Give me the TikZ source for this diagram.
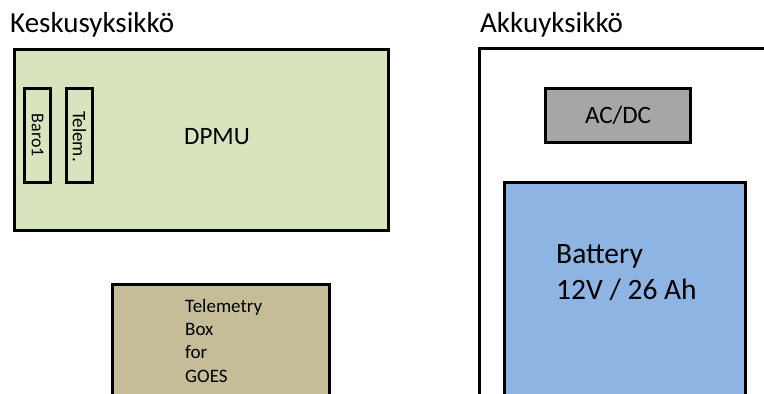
\documentclass[tikz,border=0pt]{standalone}
\usepackage{fontspec}
\setmainfont{Carlito}
\usetikzlibrary{positioning,calc}
\definecolor{dpmugreen}{HTML}{D7E4BD}
\definecolor{telebrown}{HTML}{C4BD97}
\definecolor{battblue}{HTML}{8EB4E3}
\definecolor{acdcgray}{HTML}{A6A6A6}
\begin{document}
\begin{tikzpicture}[
    x=1pt, y=-1pt,
    box/.style={rectangle, draw, line width=3pt, inner sep=0pt, outer sep=0pt, anchor=north west},
    title/.style={font=\fontsize{29}{34}\selectfont, anchor=base west, inner sep=0pt},
    lbl/.style={inner sep=0pt}
]
    \useasboundingbox (0,0) rectangle (764,394);
    \clip (0,0) rectangle (764,394);
    % central unit
    \node[title] (keskus) at (10,32) {Keskusyksikkö};
    \node[box, fill=dpmugreen, minimum width=374, minimum height=181] (dpmu) at (14.5,49.5) {};
    \node[lbl, font=\fontsize{25}{30}\selectfont] (dpmutxt) at (217,137) {DPMU};
    \node[box, minimum width=26, minimum height=94] (baro) at (24.5,88.5) {};
    \node[box, minimum width=26, minimum height=94] (telem) at (66.5,88.5) {};
    \node[lbl, rotate=-90, font=\fontsize{18}{22}\selectfont] (barotxt) at (baro.center) {Baro1};
    \node[lbl, rotate=-90, font=\fontsize{19}{23}\selectfont] (telemtxt) at ([yshift=-1]telem.center) {Telem.};
    \node[box, fill=telebrown, minimum width=217, minimum height=200] (goes) at (112.5,284.5) {};
    \node[lbl, align=left, anchor=north west, font=\fontsize{19}{23.3}\selectfont] (goestxt) at (185,299) {Telemetry\\Box\\for\\GOES};
    % battery unit
    \node[title] (akku) at (480,32) {Akkuyksikkö};
    \node[box, minimum width=400, minimum height=400] (frame) at (479.5,48.5) {};
    \node[box, fill=acdcgray, minimum width=145, minimum height=54, font=\fontsize{25}{30}\selectfont] (acdc) at (545.5,88.5) {AC/DC};
    \node[box, fill=battblue, minimum width=241, minimum height=250] (batt) at (504.5,182.5) {};
    \node[lbl, align=left, anchor=north west, font=\fontsize{29.5}{36}\selectfont] (batttxt) at (556,244) {Battery\\12V / 26 Ah};
\end{tikzpicture}
\end{document}
